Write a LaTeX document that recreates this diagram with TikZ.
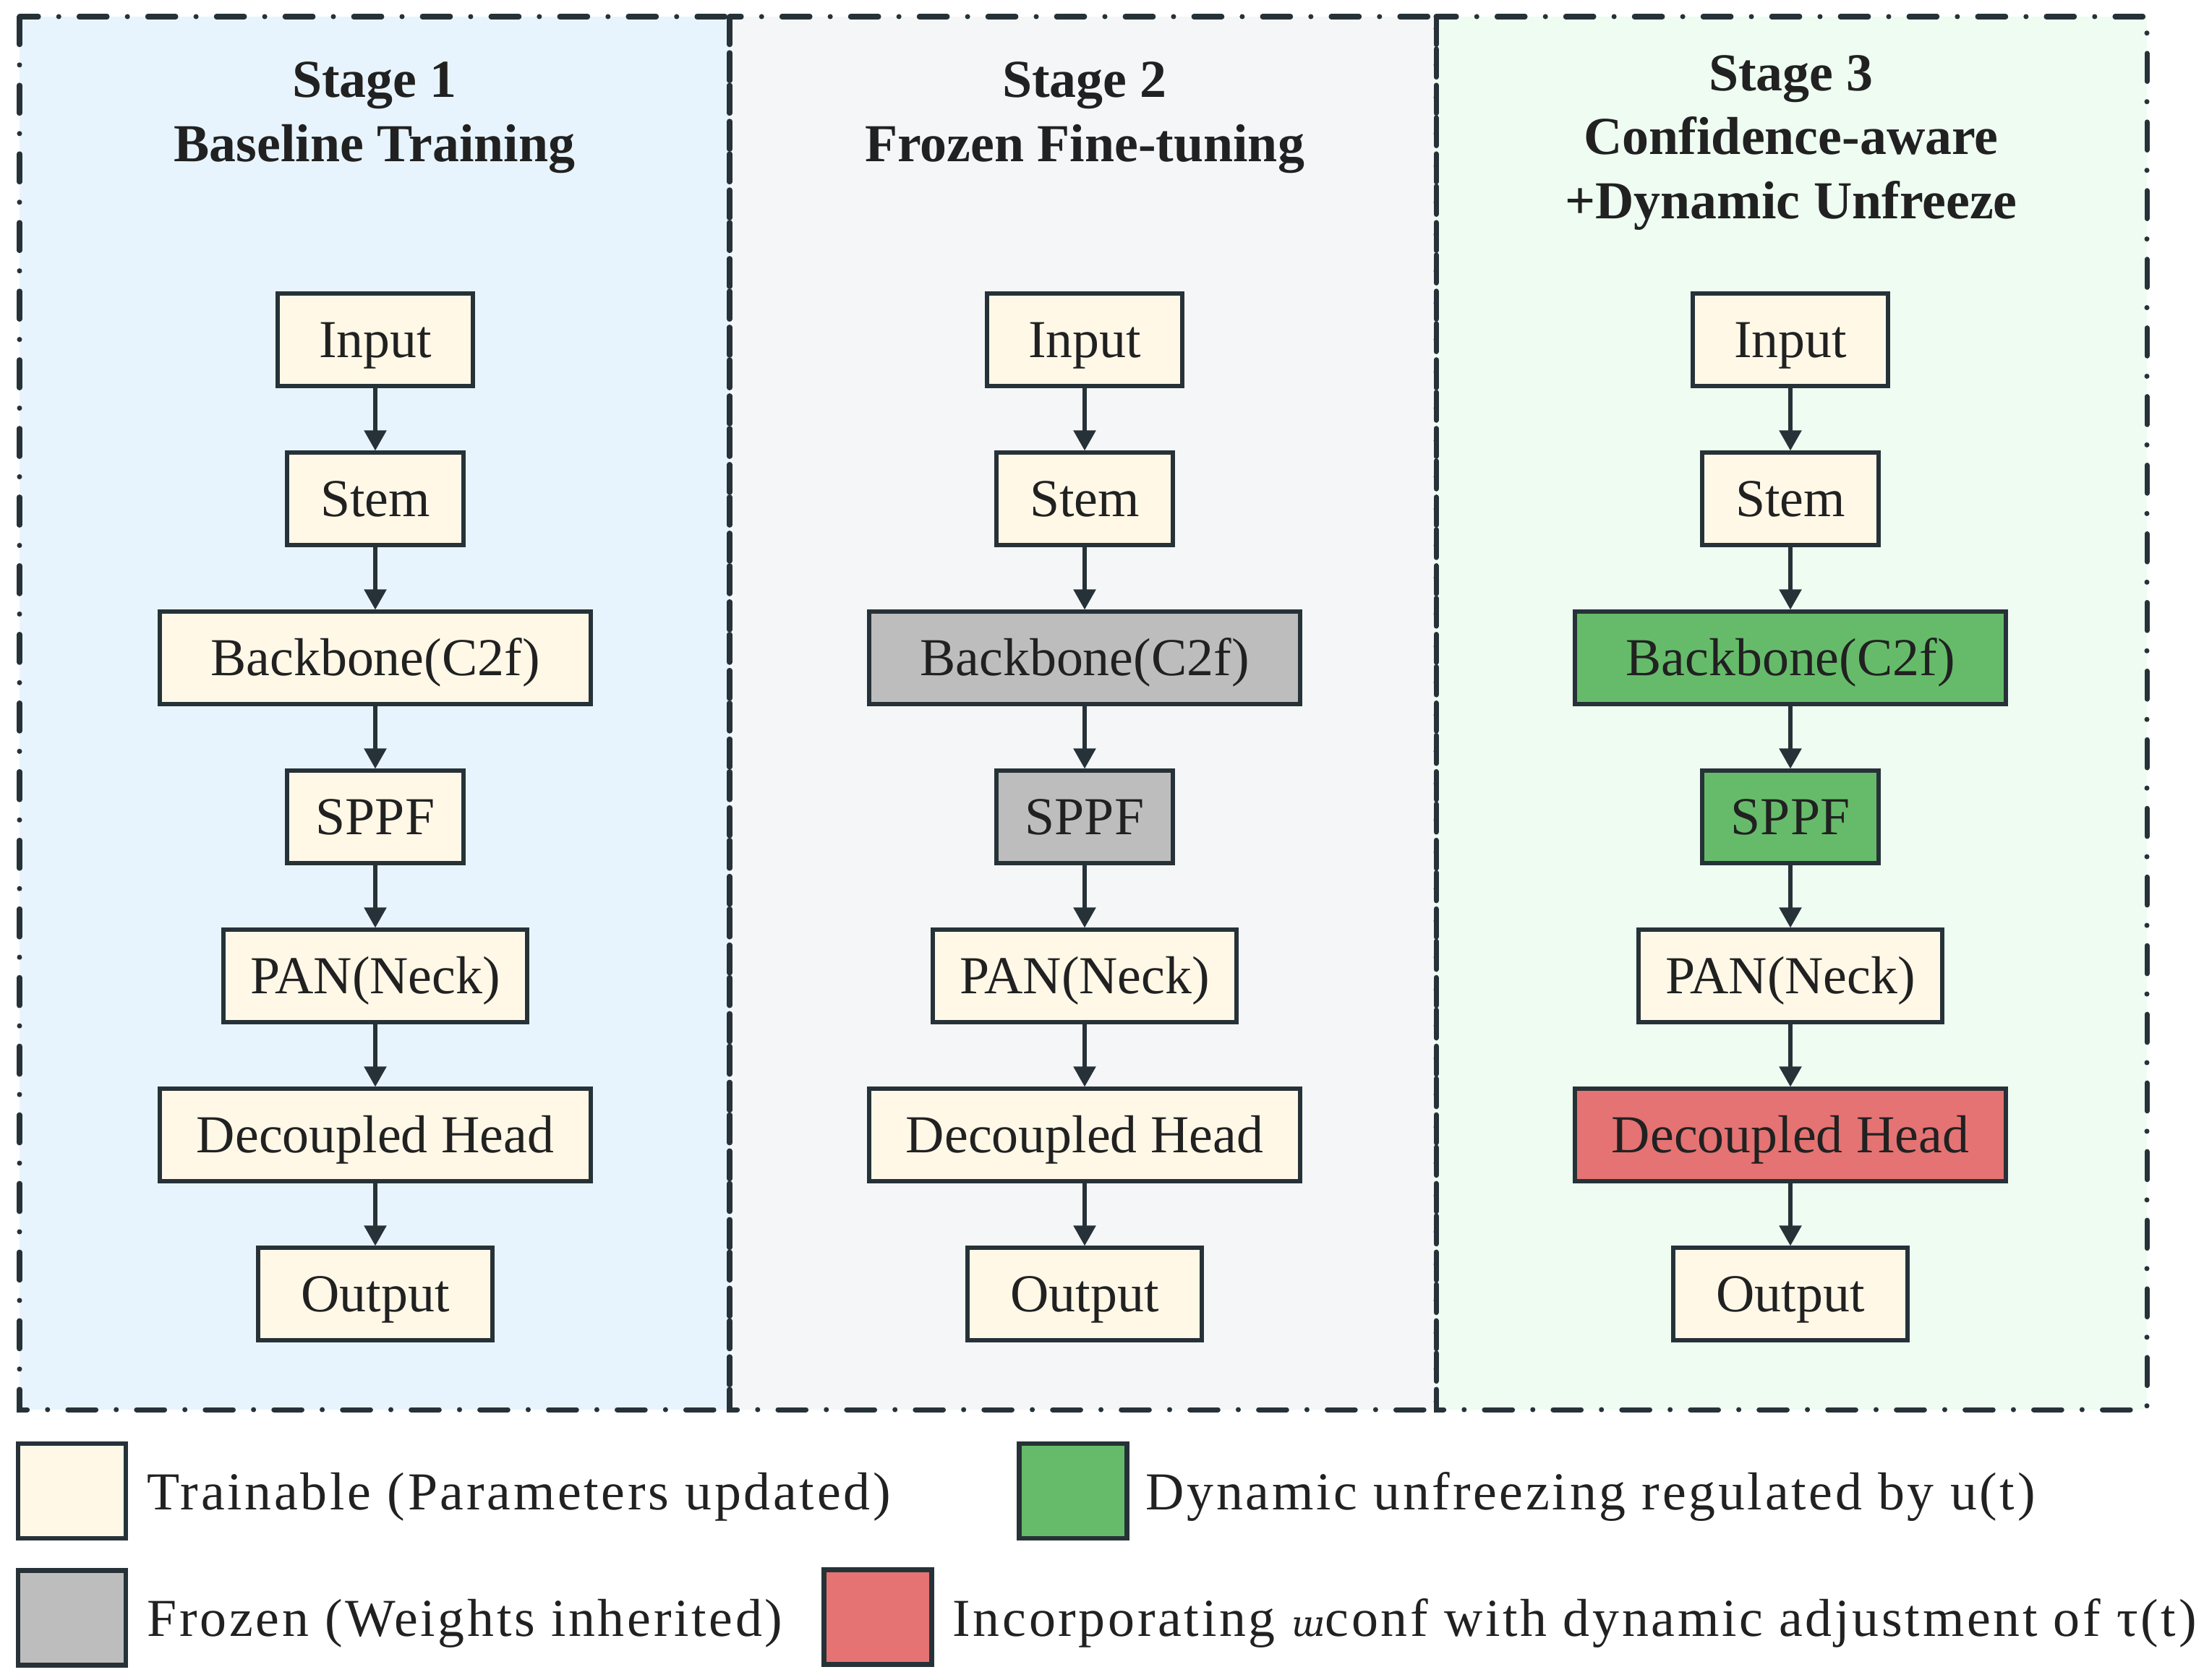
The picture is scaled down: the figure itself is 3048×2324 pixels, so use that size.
\documentclass[tikz,border=0pt]{standalone}
\usepackage{fontspec}
\setmainfont{Liberation Serif}
\newfontfamily\legfont{Liberation Serif}[LetterSpace=5.0]
\newfontfamily\ipafont{DejaVu Serif}
\usetikzlibrary{arrows.meta}
\definecolor{bgA}{HTML}{E8F4FD}
\definecolor{bgB}{HTML}{F4F6F8}
\definecolor{bgC}{HTML}{EEFCF2}
\definecolor{cream}{HTML}{FFF8E7}
\definecolor{frz}{HTML}{BDBDBD}
\definecolor{unf}{HTML}{66BB6A}
\definecolor{hed}{HTML}{E57373}
\definecolor{ink}{HTML}{263238}
\definecolor{txt}{HTML}{212121}
\tikzset{
  panelline/.style={draw=ink, line width=2pt, line cap=round,
    dash pattern=on 11pt off 8pt on 0pt off 8pt},
  blk/.style={draw=ink, line width=1.7pt, rectangle, minimum height=1.27cm,
    inner sep=0pt, text=txt, font=\fontsize{21}{25}\selectfont,
    text height=13.8pt, text depth=0pt},
  ttl/.style={anchor=base, text=txt, inner sep=0pt, font=\fontsize{21}{25}\selectfont\bfseries},
  flow/.style={draw=ink, line width=1.7pt, -{Triangle[length=8pt,width=8.5pt]}},
  swatch/.style={draw=ink, line width=1.8pt, rectangle, minimum width=1.49cm, minimum height=1.31cm, inner sep=0pt},
  legtxt/.style={anchor=base west, inner sep=0pt, text=txt, font=\legfont\fontsize{21}{25}\selectfont}
}
\newcommand\mkcolumn[5]{%
  \node[blk, fill=cream, minimum width=2.70cm] (#1in) at (#2,470) {Input};
  \node[blk, fill=cream, minimum width=2.44cm] (#1st) at (#2,690) {Stem};
  \node[blk, fill=#3, minimum width=5.96cm] (#1bb) at (#2,910) {Backbone(C2f)};
  \node[blk, fill=#4, minimum width=2.44cm] (#1sp) at (#2,1130) {SPPF};
  \node[blk, fill=cream, minimum width=4.20cm] (#1pn) at (#2,1350) {PAN(Neck)};
  \node[blk, fill=#5, minimum width=5.96cm] (#1hd) at (#2,1570) {Decoupled Head};
  \node[blk, fill=cream, minimum width=3.24cm] (#1ou) at (#2,1790) {Output};
  \draw[flow] (#1in) -- (#1st);
  \draw[flow] (#1st) -- (#1bb);
  \draw[flow] (#1bb) -- (#1sp);
  \draw[flow] (#1sp) -- (#1pn);
  \draw[flow] (#1pn) -- (#1hd);
  \draw[flow] (#1hd) -- (#1ou);
}
\begin{document}
\begin{tikzpicture}[x=0.01cm,y=-0.01cm]
\useasboundingbox (0,0) rectangle (3048,2324);
\fill[white] (0,0) rectangle (3048,2324);
% panels
\fill[bgA] (27,23) rectangle (1009,1950);
\fill[bgB] (1009,23) rectangle (1986,1950);
\fill[bgC] (1986,23) rectangle (2969,1950);
\draw[panelline] (27,23) rectangle (1009,1950);
\draw[panelline] (1009,23) rectangle (1986,1950);
\draw[panelline] (1986,23) rectangle (2969,1950);
% titles
\node[ttl] (t1a) at (518,134) {Stage 1};
\node[ttl] (t1b) at (518,223) {Baseline Training};
\node[ttl] (t2a) at (1500,134) {Stage 2};
\node[ttl] (t2b) at (1500,223) {Frozen Fine-tuning};
\node[ttl] (t3a) at (2477,125) {Stage 3};
\node[ttl] (t3b) at (2477,213) {Confidence-aware};
\node[ttl] (t3c) at (2477,302) {+Dynamic Unfreeze};
% columns
\mkcolumn{a}{519}{cream}{cream}{cream}
\mkcolumn{b}{1500}{frz}{frz}{cream}
\mkcolumn{c}{2476}{unf}{unf}{hed}
% legend
\node[swatch, fill=cream] (lg1) at (99.5,2062.5) {};
\node[legtxt] (lt1) at (203,2088) {Trainable (Parameters updated)};
\node[swatch, fill=frz] (lg2) at (99.5,2238) {};
\node[legtxt] (lt2) at (203,2263) {Frozen (Weights inherited)};
\node[swatch, fill=unf] (lg3) at (1484,2062.5) {};
\node[legtxt] (lt3) at (1584,2088) {Dynamic unfreezing regulated by u(t)};
\node[swatch, fill=hed] (lg4) at (1214,2237) {};
\node[legtxt] (lt4) at (1317,2263) {Incorporating {\ipafont\itshape\fontsize{14}{14}\selectfont ɯ}conf with dynamic adjustment of τ(t)};
\end{tikzpicture}
\end{document}
